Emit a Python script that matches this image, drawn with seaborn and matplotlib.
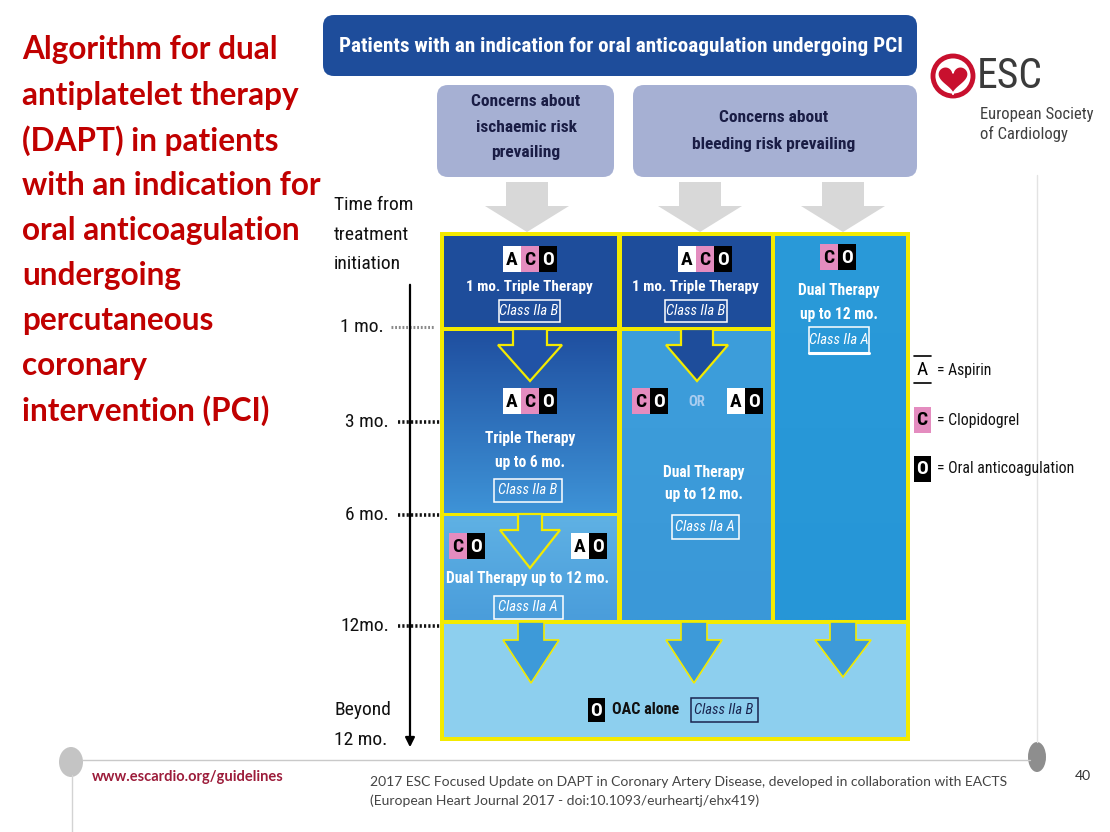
import numpy as np
import matplotlib
matplotlib.use("Agg")
import matplotlib.pyplot as plt
from matplotlib import font_manager as fm
from matplotlib.patches import Rectangle, FancyBboxPatch, Polygon, Ellipse, Circle
import seaborn as sns

# ---------------- data (text content of the slide) ----------------
slide_title = ["Algorithm for dual", "antiplatelet therapy", "(DAPT) in patients",
               "with an indication for", "oral anticoagulation", "undergoing",
               "percutaneous", "coronary", "intervention (PCI)"]
banner_text = "Patients with an indication for oral anticoagulation undergoing PCI"
concern_labels = ["Concerns about\nischaemic risk\nprevailing",
                  "Concerns about\nbleeding risk prevailing"]
time_header = ["Time from", "treatment", "initiation"]
milestone_labels = ["1 mo.", "3 mo.", "6 mo.", "12mo."]
end_label = ["Beyond", "12 mo."]
regimens_top = ["ACO", "ACO", "CO"]
therapy_top = ["1 mo. Triple Therapy", "1 mo. Triple Therapy", "Dual Therapy\nup to 12 mo."]
class_top = ["Class IIa B", "Class IIa B", "Class IIa A"]
regimen_mid_col1 = "ACO"
therapy_mid_col1 = "Triple Therapy\nup to 6 mo."
class_mid_col1 = "Class IIa B"
regimens_mid_col2 = ["CO", "AO"]
or_label = "OR"
therapy_mid_col2 = "Dual Therapy\nup to 12 mo."
class_mid_col2 = "Class IIa A"
regimens_low_col1 = ["CO", "AO"]
therapy_low_col1 = "Dual Therapy up to 12 mo."
class_low_col1 = "Class IIa A"
regimen_final = "O"
therapy_final = "OAC alone"
class_final = "Class IIa B"
legend_codes = ["A", "C", "O"]
legend_names = ["Aspirin", "Clopidogrel", "Oral anticoagulation"]
esc_name = "ESC"
esc_full = ["European Society", "of Cardiology"]
footer_url = "www.escardio.org/guidelines"
footer_ref = ["2017 ESC Focused Update on DAPT in Coronary Artery Disease, developed in collaboration with EACTS",
              "(European Heart Journal 2017 - doi:10.1093/eurheartj/ehx419)"]
page_number = "40"

# ---------------- style ----------------
sns.set_theme(style="white")
plt.rcParams['font.family'] = ['Lato', 'DejaVu Sans']
TITLE = ['Lato', 'DejaVu Sans']

# choose a condensed sans face if one is installed
_cond = [f for f in fm.fontManager.ttflist
         if ('Narrow' in f.name or 'Condensed' in f.name
             or str(f.stretch) in ('condensed', 'semi-condensed', 'extra-condensed'))
         and 'Mono' not in f.name and 'Serif' not in f.name and 'CJK' not in f.name]
_pref = ['Roboto Condensed', 'Liberation Sans Narrow', 'Open Sans Condensed', 'Noto Sans',
         'Open Sans']
NARROW_NAME, NARROW_STRETCH, FS = 'Lato', 'normal', 0.86
for p in _pref:
    hits = [f for f in _cond if f.name == p]
    if hits:
        st = [str(f.stretch) for f in hits]
        NARROW_NAME = p
        NARROW_STRETCH = 'condensed' if 'condensed' in st else (
            'semi-condensed' if 'semi-condensed' in st else 'normal')
        FS = 1.0
        break
NK = dict(family=[NARROW_NAME, 'DejaVu Sans'], fontstretch=NARROW_STRETCH)

DARK = '#1e4d9b'
YELLOW = '#f3ea00'
BOTTOM = '#8dcfee'
PINK = '#e48cbf'
CELL = {'A': ('white', 'black'), 'C': (PINK, 'black'), 'O': ('black', 'white')}

fig = plt.figure(figsize=(11.1, 8.32), dpi=100)
ax = fig.add_axes([0, 0, 1, 1])
ax.set_xlim(0, 1110)
ax.set_ylim(832, 0)
ax.axis('off')


def gradient(x0, y0, w, h, c_top, c_bot):
    pal = sns.blend_palette([c_top, c_bot], n_colors=120)
    arr = np.array(pal)[:, None, :]
    ax.imshow(arr, extent=(x0, x0 + w, y0 + h, y0), origin='upper',
              aspect='auto', interpolation='bilinear', zorder=2)


def down_arrow(cx, top, shaft_w, head_y, head_w, tip, fc, ec, lw, z=4):
    pts = [(cx - shaft_w / 2, top), (cx + shaft_w / 2, top), (cx + shaft_w / 2, head_y),
           (cx + head_w / 2, head_y), (cx, tip), (cx - head_w / 2, head_y),
           (cx - shaft_w / 2, head_y)]
    ax.add_patch(Polygon(pts, closed=True, fc=fc, ec=ec, lw=lw, joinstyle='miter', zorder=z))


def badge(cx, cy, codes, cw=18, ch=26, fs=14):
    x0 = cx - cw * len(codes) / 2
    for i, c in enumerate(codes):
        fc, tc = CELL[c]
        ax.add_patch(Rectangle((x0 + i * cw, cy - ch / 2), cw, ch, fc=fc, ec='none', zorder=6))
        ax.text(x0 + i * cw + cw / 2, cy + 1, c, color=tc, fontsize=fs * FS, ha='center',
                va='center', fontweight='bold', zorder=7, **NK)


def class_box(cx, cy, label, w=62, h=22, color='white', underline=False):
    ax.add_patch(Rectangle((cx - w / 2, cy - h / 2), w, h, fc='none', ec=color, lw=1.1, zorder=6))
    if underline:
        ax.plot([cx - w / 2, cx + w / 2], [cy + h / 2, cy + h / 2], color=color, lw=2.2, zorder=6)
    ax.text(cx, cy, label, color=color, fontsize=10.5 * FS, style='italic', ha='center',
            va='center', zorder=7, **NK)


def lines_at(x, ys, s, fs=11, color='white', weight='bold', ha='center'):
    for y, line in zip(ys, s.split('\n')):
        ax.text(x, y, line, color=color, fontsize=fs * FS, ha=ha, va='center',
                fontweight=weight, zorder=7, **NK)


# ---------------- left title ----------------
for i, line in enumerate(slide_title):
    ax.text(22, 50 + 45.1 * i, line, color='#c00000', fontsize=22.7, fontweight='bold',
            family=TITLE, ha='left', va='center')

# ---------------- banner & concern boxes ----------------
ax.add_patch(FancyBboxPatch((323, 15), 594, 61, boxstyle="round,pad=0,rounding_size=11",
                            fc=DARK, ec='none', zorder=2))
ax.text(621, 46, banner_text, color='white', fontsize=15.2 * FS, ha='center', va='center',
        fontweight='bold', zorder=3, **NK)
ax.add_patch(FancyBboxPatch((437, 85), 177, 92, boxstyle="round,pad=0,rounding_size=11",
                            fc='#a6b0d3', ec='none', zorder=2))
ax.add_patch(FancyBboxPatch((633, 85), 284, 92, boxstyle="round,pad=0,rounding_size=11",
                            fc='#a6b0d3', ec='none', zorder=2))
lines_at(526, [101, 127, 153], concern_labels[0], fs=12.5, color='#1a1d45')
lines_at(774, [117, 145], concern_labels[1], fs=12.5, color='#1a1d45')

for cx in (527, 700, 843):
    down_arrow(cx, 182, 42, 206, 84, 232, '#d8d8d8', 'none', 0, z=2)

# ---------------- main frame ----------------
ax.add_patch(Rectangle((440, 232), 470, 509, fc=YELLOW, ec='none', zorder=1))
ax.add_patch(Rectangle((444, 236), 173, 91, fc=DARK, ec='none', zorder=2))
gradient(444, 331, 173, 182, '#1f4fa0', '#3e93d7')
gradient(444, 516, 173, 104, '#5fb1e4', '#4a9ddb')
ax.add_patch(Rectangle((622, 236), 149, 91, fc=DARK, ec='none', zorder=2))
gradient(622, 331, 149, 289, '#3d9edb', '#3a98d8')
gradient(775, 236, 131, 384, '#2a9ad9', '#2696d7')
ax.add_patch(Rectangle((444, 624), 462, 113, fc=BOTTOM, ec='none', zorder=2))

# arrows inside the frame
down_arrow(530, 329, 34, 345, 64, 381, '#2153a6', YELLOW, 1.6)
down_arrow(697, 329, 32, 345, 62, 381, DARK, YELLOW, 1.6)
down_arrow(530, 514, 24, 530, 60, 568, '#4aa0dc', YELLOW, 1.6)
for cx, tip in ((531, 683), (694, 683), (843, 677)):
    down_arrow(cx, 622, 26, 640, 56, tip, '#3d9ad9', YELLOW, 1.2)

# ---------------- column contents ----------------
badge(530, 259, regimens_top[0])
lines_at(529, [287], therapy_top[0], fs=11)
class_box(529, 311, class_top[0], w=61, h=22)
badge(705, 259, regimens_top[1])
lines_at(695, [287], therapy_top[1], fs=11)
class_box(696, 311, class_top[1], w=62, h=22)
badge(838, 257, regimens_top[2])
lines_at(839, [290, 315], therapy_top[2], fs=11.2)
class_box(839, 340, class_top[2], w=60, h=26, underline=True)

badge(530, 401, regimen_mid_col1)
lines_at(530, [438, 462], therapy_mid_col1, fs=11.2)
class_box(528, 490, class_mid_col1, w=68, h=23)

badge(650, 401, regimens_mid_col2[0])
ax.text(697, 402, or_label, color='#a9cdf0', fontsize=10.5 * FS, ha='center', va='center',
        fontweight='bold', zorder=7, **NK)
badge(745, 401, regimens_mid_col2[1])
lines_at(704, [472, 495], therapy_mid_col2, fs=11.2)
class_box(705, 527, class_mid_col2, w=67, h=24)

badge(467, 546, regimens_low_col1[0])
badge(589, 546, regimens_low_col1[1])
lines_at(528, [578], therapy_low_col1, fs=11.2)
class_box(528, 607, class_low_col1, w=69, h=23)

badge(596, 710, regimen_final, cw=17, ch=24)
lines_at(612, [710], therapy_final, fs=11.5, color='#111111', ha='left')
class_box(724, 710, class_final, w=67, h=24, color='#1b2550')

# ---------------- time axis ----------------
lines_at(334, [205, 235, 264], '\n'.join(time_header), fs=14, color='#111111',
         weight='normal', ha='left')
ax.annotate('', xy=(410, 750), xytext=(410, 282),
            arrowprops=dict(arrowstyle='-|>', color='black', lw=1.6, mutation_scale=14))
mil_x = [340, 345, 345, 340]
mil_y = [327, 422, 515, 626]
for k, (lab, x, y) in enumerate(zip(milestone_labels, mil_x, mil_y)):
    ax.text(x, y, lab, color='#111111', fontsize=14 * FS, ha='left', va='center', **NK)
    if k == 0:
        ax.plot([391, 434], [y, y], color='#8a8a8a', lw=2.2, ls=(0, (0.6, 0.6)))
    else:
        ax.plot([398, 440], [y, y], color='#111111', lw=2.6, ls=(0, (0.6, 0.6)))
lines_at(334, [710, 740], '\n'.join(end_label), fs=14, color='#111111', weight='normal',
         ha='left')

# ---------------- legend ----------------
leg_y = [370, 420, 469]
ax.plot([914, 931], [356, 356], color='black', lw=1.2)
ax.plot([914, 931], [383, 383], color='black', lw=1.2)
ax.text(922.5, 370, legend_codes[0], color='black', fontsize=14 * FS, ha='center',
        va='center', **NK)
for code, name, y in zip(legend_codes, legend_names, leg_y):
    if code != 'A':
        fc, tc = CELL[code]
        ax.add_patch(Rectangle((913.5, y - 13), 17, 26, fc=fc, ec='none', zorder=6))
        ax.text(922, y, code, color=tc, fontsize=14 * FS, ha='center', va='center',
                fontweight='bold', zorder=7, **NK)
    ax.text(937, y, '= ' + name, color='#111111', fontsize=11.3 * FS, ha='left',
            va='center', **NK)

# ---------------- ESC logo ----------------
t = np.linspace(0, 2 * np.pi, 200)
hx = 16 * np.sin(t) ** 3
hy = 13 * np.cos(t) - 5 * np.cos(2 * t) - 2 * np.cos(3 * t) - np.cos(4 * t)
ax.add_patch(Circle((953, 76), 20, fc='white', ec='#c8102e', lw=3.5, zorder=3))
ax.add_patch(Polygon(np.column_stack([953 + hx * 0.95, 78 - hy * 0.95]), closed=True,
                     fc='#c8102e', ec='white', lw=1.2, zorder=4))
ax.text(977, 77, esc_name, color='#3b3b3b', fontsize=30 * FS, ha='left', va='center',
        zorder=4, **NK)
for i, line in enumerate(esc_full):
    ax.text(980, 115 + 19 * i, line, color='#404040', fontsize=12 * FS, ha='left',
            va='center', **NK)

# ---------------- footer ----------------
ax.plot([82, 1030], [760, 760], color='#c9c9c9', lw=1)
ax.plot([72, 72], [775, 832], color='#d3d3d3', lw=1)
ax.plot([1037, 1037], [175, 742], color='#e3e3e3', lw=1)
ax.add_patch(Ellipse((71, 762), 24, 30, fc='#c4c4c4', ec='none'))
ax.add_patch(Ellipse((1037, 757), 18, 30, fc='#8e8e8e', ec='none'))
ax.text(92, 777, footer_url, color='#9c1c3a', fontsize=10.5, fontweight='bold', ha='left',
        va='center', family=TITLE)
for i, line in enumerate(footer_ref):
    ax.text(370, 782 + 19 * i, line, color='#444444', fontsize=10, ha='left', va='center',
            family=TITLE)
ax.text(1083, 776, page_number, color='#333333', fontsize=10, ha='center', va='center',
        family=TITLE)

fig.savefig('out.png', dpi=100)
